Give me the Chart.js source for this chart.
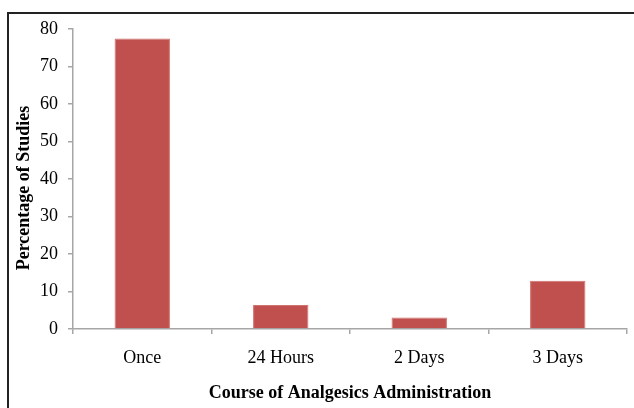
<!DOCTYPE html>
<html>
<head>
<meta charset="utf-8">
<script src="https://cdn.jsdelivr.net/npm/chart.js@4"></script>
<style>
  html, body { margin: 0; padding: 0; background: #fff; overflow: hidden; }
  #wrap { position: relative; width: 634px; height: 408px; }
  #frame {
    position: absolute; left: 7px; top: 12px; width: 700px; height: 500px;
    border-left: 2px solid #222; border-top: 2px solid #222; pointer-events: none;
  }
</style>
</head>
<body>
<div id="wrap">
  <canvas id="chart" width="634" height="408"></canvas>
  <div id="frame"></div>
</div>
<script>
const categories = ["Once", "24 Hours", "2 Days", "3 Days"];
const percentages = [77.5, 6.4, 3.1, 12.9];
const yTicks = [0, 10, 20, 30, 40, 50, 60, 70, 80];

const serif = "'Liberation Serif', 'Times New Roman', serif";
const axisGray = "#a6a6a6";

const ctx = document.getElementById("chart").getContext("2d");

new Chart(ctx, {
  type: "bar",
  data: {
    labels: categories,
    datasets: [{
      label: "Percentage of Studies",
      data: percentages,
      backgroundColor: "#C0504D",
      borderColor: "#D2726F",
      borderWidth: 1,
      categoryPercentage: 1,
      barPercentage: 0.4
    }]
  },
  options: {
    responsive: false,
    animation: false,
    layout: { padding: { top: 29, right: 7, bottom: 0, left: 0 } },
    plugins: { legend: { display: false }, tooltip: { enabled: false } },
    scales: {
      x: {
        offset: true,
        grid: {
          offset: true, drawOnChartArea: false, tickLength: 5,
          color: axisGray, lineWidth: 1.5
        },
        border: { color: axisGray, width: 1.5 },
        ticks: { color: "#000", font: { family: serif, size: 18 }, padding: 13 },
        title: {
          display: true,
          text: "Course of Analgesics Administration",
          color: "#000",
          font: { family: serif, size: 18, weight: "bold" },
          padding: { top: 2, bottom: 4 }
        },
        afterFit: s => { s.height = 79; }
      },
      y: {
        min: 0,
        max: 80,
        afterBuildTicks: s => { s.ticks = yTicks.map(v => ({ value: v })); },
        grid: {
          drawOnChartArea: false, tickLength: 5,
          color: axisGray, lineWidth: 1.5
        },
        border: { color: axisGray, width: 1.5 },
        ticks: { color: "#000", font: { family: serif, size: 18 }, padding: 10 },
        title: {
          display: true,
          // trailing spaces nudge the rotated title down a bit, like the original
          text: "Percentage of Studies    ",
          color: "#000",
          font: { family: serif, size: 18, weight: "bold" },
          padding: { top: 14, bottom: 0 }
        },
        afterFit: s => { s.width = 73; }
      }
    }
  }
});
</script>
</body>
</html>
